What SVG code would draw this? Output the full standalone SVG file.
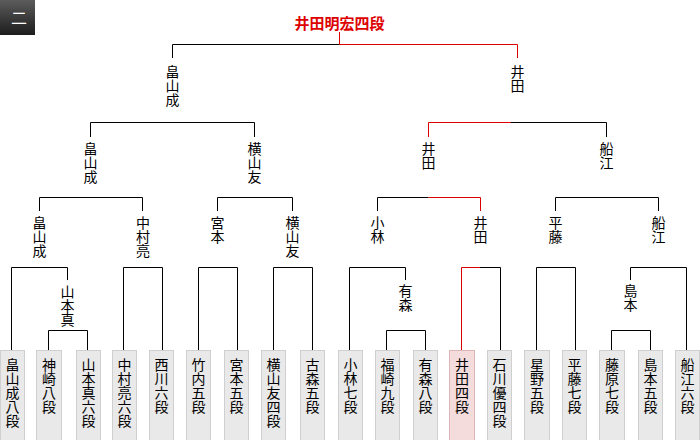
<svg xmlns="http://www.w3.org/2000/svg" width="700" height="440" viewBox="0 0 700 440">
<defs>
<linearGradient id="tabg" x1="0" y1="0" x2="0" y2="1">
<stop offset="0" stop-color="#5c5c5c"/>
<stop offset="1" stop-color="#1c1c1c"/>
</linearGradient>
</defs>
<style>
text{font-family:"Noto Sans CJK JP","Noto Sans CJK SC",sans-serif;font-size:14px;fill:#000}
.v{writing-mode:vertical-rl;text-anchor:start}
.lf rect{fill:#e9e9e9;stroke:#cfcfcf;stroke-width:1}
.lf.win rect{fill:#f4dcdc;stroke:#dcb6b6}
.ln{fill:none;stroke:#000;stroke-width:1}
.rd{fill:none;stroke:#dd0000;stroke-width:1}
.title{font-weight:bold;font-size:15px;fill:#dd0000;text-anchor:middle}
</style>
<rect width="700" height="440" fill="#fff"/>
<g id="tab">
<rect x="0" y="0" width="35" height="35" fill="url(#tabg)"/>
<text x="19" y="24" style="fill:#fff;font-size:16px;text-anchor:middle">二</text>
</g>
<g id="connectors">
<path class="ln" d="M172.5 58V44.5H339.5"/>
<path class="rd" d="M339.5 32V44.5H517.5V58"/>
<path class="ln" d="M90.5 137V122.5H254.5V137"/>
<path class="rd" d="M428.5 137V122.5H511"/>
<path class="ln" d="M511 122.5H606.5V137"/>
<path class="ln" d="M39.5 211V197.5H142.5V211"/>
<path class="ln" d="M217.5 211V197.5H292.5V211"/>
<path class="ln" d="M377.5 211V197.5H428.5"/>
<path class="rd" d="M428.5 197.5H480.5V211"/>
<path class="ln" d="M555.5 211V197.5H658.5V211"/>
<path class="ln" d="M11.5 350V267.5H67.5V280"/>
<path class="ln" d="M48.5 350V330.5H87.5V350"/>
<path class="ln" d="M123.5 350V267.5H162.5V350"/>
<path class="ln" d="M198.5 350V267.5H237.5V350"/>
<path class="ln" d="M273.5 350V267.5H312.5V350"/>
<path class="ln" d="M349.5 350V267.5H405.5V280"/>
<path class="ln" d="M386.5 350V330.5H425.5V350"/>
<path class="rd" d="M461.5 350V267.5H480"/>
<path class="ln" d="M480 267.5H500.5V350"/>
<path class="ln" d="M536.5 350V267.5H575.5V350"/>
<path class="ln" d="M630.5 280V267.5H686.5V350"/>
<path class="ln" d="M611.5 350V330.5H650.5V350"/>
</g>
<g id="title"><text class="title" x="339.5" y="28.5">井田明宏四段</text></g>
<g id="f-hatakeyama"><text class="v" x="172.5" y="64.7">畠山成</text></g>
<g id="f-ida"><text class="v" x="517.5" y="64.7">井田</text></g>
<g id="s-hatakeyama"><text class="v" x="90.5" y="141.7">畠山成</text></g>
<g id="s-yokoyama"><text class="v" x="254.5" y="141.7">横山友</text></g>
<g id="s-ida"><text class="v" x="428.5" y="141.7">井田</text></g>
<g id="s-funae"><text class="v" x="606.5" y="141.7">船江</text></g>
<g id="q-hatakeyama"><text class="v" x="39.5" y="215.7">畠山成</text></g>
<g id="q-nakamura"><text class="v" x="143" y="215.7">中村亮</text></g>
<g id="q-miyamoto"><text class="v" x="217.5" y="215.7">宮本</text></g>
<g id="q-yokoyama"><text class="v" x="292.5" y="215.7">横山友</text></g>
<g id="q-kobayashi"><text class="v" x="377.5" y="215.7">小林</text></g>
<g id="q-ida"><text class="v" x="480.5" y="215.7">井田</text></g>
<g id="q-hirafuji"><text class="v" x="555.5" y="215.7">平藤</text></g>
<g id="q-funae"><text class="v" x="658.5" y="215.7">船江</text></g>
<g id="r-yamamoto"><text class="v" x="67.5" y="284.5">山本真</text></g>
<g id="r-arimori"><text class="v" x="405.5" y="283.5">有森</text></g>
<g id="r-shimamoto"><text class="v" x="630.5" y="283.5">島本</text></g>
<g id="l0" class="lf"><rect x="0.5" y="350.5" width="24" height="95"/><text class="v" x="12.5" y="357.7">畠山成八段</text></g>
<g id="l1" class="lf"><rect x="36.5" y="350.5" width="25" height="95"/><text class="v" x="49" y="357.7">神崎八段</text></g>
<g id="l2" class="lf"><rect x="76.5" y="350.5" width="24" height="95"/><text class="v" x="88.5" y="357.7">山本真六段</text></g>
<g id="l3" class="lf"><rect x="112.5" y="350.5" width="24" height="95"/><text class="v" x="124.5" y="357.7">中村亮六段</text></g>
<g id="l4" class="lf"><rect x="149.5" y="350.5" width="24" height="95"/><text class="v" x="161.5" y="357.7">西川六段</text></g>
<g id="l5" class="lf"><rect x="186.5" y="350.5" width="24" height="95"/><text class="v" x="198.5" y="357.7">竹内五段</text></g>
<g id="l6" class="lf"><rect x="224.5" y="350.5" width="24" height="95"/><text class="v" x="236.5" y="357.7">宮本五段</text></g>
<g id="l7" class="lf"><rect x="261.5" y="350.5" width="24" height="95"/><text class="v" x="273.5" y="357.7">横山友四段</text></g>
<g id="l8" class="lf"><rect x="300.5" y="350.5" width="24" height="95"/><text class="v" x="312.5" y="357.7">古森五段</text></g>
<g id="l9" class="lf"><rect x="338.5" y="350.5" width="24" height="95"/><text class="v" x="350.5" y="357.7">小林七段</text></g>
<g id="l10" class="lf"><rect x="375.5" y="350.5" width="24" height="95"/><text class="v" x="387.5" y="357.7">福崎九段</text></g>
<g id="l11" class="lf"><rect x="413.5" y="350.5" width="24" height="95"/><text class="v" x="425.5" y="357.7">有森八段</text></g>
<g id="l12" class="lf win"><rect x="449.5" y="350.5" width="25" height="95"/><text class="v" x="462" y="357.7">井田四段</text></g>
<g id="l13" class="lf"><rect x="487.5" y="350.5" width="24" height="95"/><text class="v" x="499.5" y="357.7">石川優四段</text></g>
<g id="l14" class="lf"><rect x="524.5" y="350.5" width="25" height="95"/><text class="v" x="537" y="357.7">星野五段</text></g>
<g id="l15" class="lf"><rect x="562.5" y="350.5" width="24" height="95"/><text class="v" x="574.5" y="357.7">平藤七段</text></g>
<g id="l16" class="lf"><rect x="599.5" y="350.5" width="25" height="95"/><text class="v" x="612" y="357.7">藤原七段</text></g>
<g id="l17" class="lf"><rect x="638.5" y="350.5" width="24" height="95"/><text class="v" x="650.5" y="357.7">島本五段</text></g>
<g id="l18" class="lf"><rect x="675.5" y="350.5" width="24" height="95"/><text class="v" x="687.5" y="357.7">船江六段</text></g>
</svg>
